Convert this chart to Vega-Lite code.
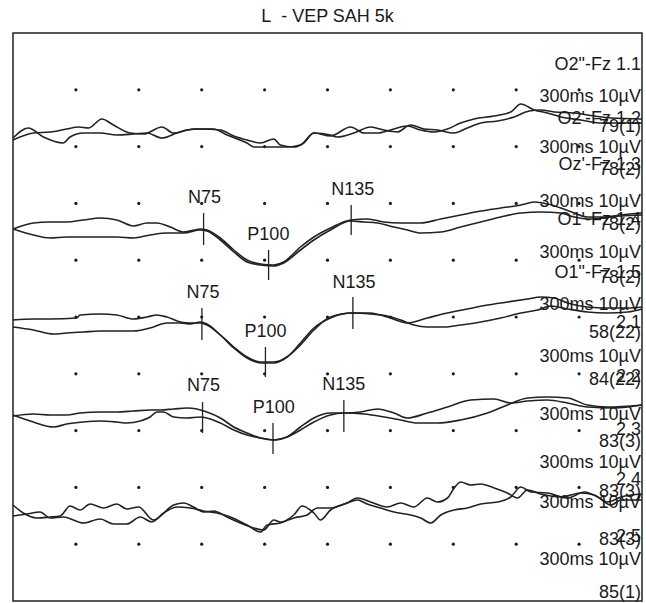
{
"$schema":"https://vega.github.io/schema/vega-lite/v6.json",
"autosize":{"type":"none"},
"width":629,"height":568,
"padding":{"left":13,"top":33,"right":4,"bottom":2},
"background":"white",
"title":{"text":"L\u00a0\u00a0- VEP SAH 5k","fontSize":18,"font":"Liberation Sans","fontWeight":"normal","color":"#1a1a1a","offset":7},
"config":{"view":{"stroke":"#222","strokeWidth":1.5},"font":"Liberation Sans"},
"datasets":{
"grid":[
{"t":30,"amp":510.2},{"t":60,"amp":510.2},{"t":90,"amp":510.2},{"t":120,"amp":510.2},{"t":150,"amp":510.2},{"t":180,"amp":510.2},{"t":210,"amp":510.2},{"t":240,"amp":510.2},{"t":270,"amp":510.2},
{"t":30,"amp":453.4},{"t":60,"amp":453.4},{"t":90,"amp":453.4},{"t":120,"amp":453.4},{"t":150,"amp":453.4},{"t":180,"amp":453.4},{"t":210,"amp":453.4},{"t":240,"amp":453.4},{"t":270,"amp":453.4},
{"t":30,"amp":396.6},{"t":60,"amp":396.6},{"t":90,"amp":396.6},{"t":120,"amp":396.6},{"t":150,"amp":396.6},{"t":180,"amp":396.6},{"t":210,"amp":396.6},{"t":240,"amp":396.6},{"t":270,"amp":396.6},
{"t":30,"amp":339.8},{"t":60,"amp":339.8},{"t":90,"amp":339.8},{"t":120,"amp":339.8},{"t":150,"amp":339.8},{"t":180,"amp":339.8},{"t":210,"amp":339.8},{"t":240,"amp":339.8},{"t":270,"amp":339.8},
{"t":30,"amp":283},{"t":60,"amp":283},{"t":90,"amp":283},{"t":120,"amp":283},{"t":150,"amp":283},{"t":180,"amp":283},{"t":210,"amp":283},{"t":240,"amp":283},{"t":270,"amp":283},
{"t":30,"amp":226.2},{"t":60,"amp":226.2},{"t":90,"amp":226.2},{"t":120,"amp":226.2},{"t":150,"amp":226.2},{"t":180,"amp":226.2},{"t":210,"amp":226.2},{"t":240,"amp":226.2},{"t":270,"amp":226.2},
{"t":30,"amp":169.4},{"t":60,"amp":169.4},{"t":90,"amp":169.4},{"t":120,"amp":169.4},{"t":150,"amp":169.4},{"t":180,"amp":169.4},{"t":210,"amp":169.4},{"t":240,"amp":169.4},{"t":270,"amp":169.4},
{"t":30,"amp":112.6},{"t":60,"amp":112.6},{"t":90,"amp":112.6},{"t":120,"amp":112.6},{"t":150,"amp":112.6},{"t":180,"amp":112.6},{"t":210,"amp":112.6},{"t":240,"amp":112.6},{"t":270,"amp":112.6},
{"t":30,"amp":55.8},{"t":60,"amp":55.8},{"t":90,"amp":55.8},{"t":120,"amp":55.8},{"t":150,"amp":55.8},{"t":180,"amp":55.8},{"t":210,"amp":55.8},{"t":240,"amp":55.8},{"t":270,"amp":55.8}
],
"traces":[
{"trace":"g1a","t":0,"amp":462},{"trace":"g1a","t":7.3,"amp":472},{"trace":"g1a","t":14.5,"amp":463},{"trace":"g1a","t":24,"amp":457},{"trace":"g1a","t":27.2,"amp":463},{"trace":"g1a","t":33.6,"amp":467},{"trace":"g1a","t":41.6,"amp":467},{"trace":"g1a","t":49.5,"amp":465},{"trace":"g1a","t":57.5,"amp":466},{"trace":"g1a","t":63.9,"amp":467},{"trace":"g1a","t":71,"amp":462},{"trace":"g1a","t":78.2,"amp":467},{"trace":"g1a","t":86.1,"amp":471},{"trace":"g1a","t":95.7,"amp":471},{"trace":"g1a","t":102.1,"amp":465},{"trace":"g1a","t":111.6,"amp":457},{"trace":"g1a","t":114.8,"amp":453},{"trace":"g1a","t":124.4,"amp":453},{"trace":"g1a","t":130.7,"amp":453},{"trace":"g1a","t":137.1,"amp":455},{"trace":"g1a","t":143.5,"amp":467},{"trace":"g1a","t":151.4,"amp":464},{"trace":"g1a","t":161,"amp":473},{"trace":"g1a","t":167.4,"amp":467},{"trace":"g1a","t":173.7,"amp":467},{"trace":"g1a","t":180.1,"amp":470},{"trace":"g1a","t":188.1,"amp":474},{"trace":"g1a","t":194.4,"amp":470},{"trace":"g1a","t":200.8,"amp":468},{"trace":"g1a","t":207.2,"amp":471},{"trace":"g1a","t":213.5,"amp":477},{"trace":"g1a","t":219.9,"amp":481},{"trace":"g1a","t":229.4,"amp":484},{"trace":"g1a","t":237.4,"amp":488},{"trace":"g1a","t":242.2,"amp":496},{"trace":"g1a","t":248.6,"amp":490},{"trace":"g1a","t":254.9,"amp":487},{"trace":"g1a","t":261.3,"amp":483},{"trace":"g1a","t":270.8,"amp":480},{"trace":"g1a","t":280.4,"amp":477},{"trace":"g1a","t":289.9,"amp":477},{"trace":"g1a","t":300,"amp":477},
{"trace":"g1b","t":0,"amp":460},{"trace":"g1b","t":9.7,"amp":467},{"trace":"g1b","t":17.7,"amp":468},{"trace":"g1b","t":25.6,"amp":471},{"trace":"g1b","t":31.2,"amp":473},{"trace":"g1b","t":36,"amp":472},{"trace":"g1b","t":42.4,"amp":481},{"trace":"g1b","t":47.9,"amp":475},{"trace":"g1b","t":55.9,"amp":467},{"trace":"g1b","t":62.3,"amp":466},{"trace":"g1b","t":71,"amp":473},{"trace":"g1b","t":76.6,"amp":467},{"trace":"g1b","t":83,"amp":470},{"trace":"g1b","t":89.3,"amp":471},{"trace":"g1b","t":98.9,"amp":470},{"trace":"g1b","t":105.3,"amp":464},{"trace":"g1b","t":111.6,"amp":460},{"trace":"g1b","t":118,"amp":457},{"trace":"g1b","t":124.4,"amp":461},{"trace":"g1b","t":127.5,"amp":455},{"trace":"g1b","t":133.9,"amp":453},{"trace":"g1b","t":138.7,"amp":457},{"trace":"g1b","t":143.5,"amp":467},{"trace":"g1b","t":151.4,"amp":465},{"trace":"g1b","t":154.6,"amp":463},{"trace":"g1b","t":162.6,"amp":467},{"trace":"g1b","t":170.6,"amp":473},{"trace":"g1b","t":176.9,"amp":470},{"trace":"g1b","t":183.3,"amp":468},{"trace":"g1b","t":189.6,"amp":475},{"trace":"g1b","t":196,"amp":471},{"trace":"g1b","t":202.4,"amp":470},{"trace":"g1b","t":210.4,"amp":467},{"trace":"g1b","t":216.7,"amp":472},{"trace":"g1b","t":223.1,"amp":477},{"trace":"g1b","t":231.1,"amp":479},{"trace":"g1b","t":239,"amp":483},{"trace":"g1b","t":246.2,"amp":489},{"trace":"g1b","t":251.8,"amp":490},{"trace":"g1b","t":258.1,"amp":488},{"trace":"g1b","t":267.7,"amp":487},{"trace":"g1b","t":277.2,"amp":484},{"trace":"g1b","t":285.2,"amp":482},{"trace":"g1b","t":300,"amp":481},
{"trace":"g2a","t":0,"amp":371},{"trace":"g2a","t":9.7,"amp":377},{"trace":"g2a","t":17.7,"amp":378},{"trace":"g2a","t":25.6,"amp":378},{"trace":"g2a","t":33.6,"amp":380},{"trace":"g2a","t":41.6,"amp":382},{"trace":"g2a","t":49.5,"amp":380},{"trace":"g2a","t":57.5,"amp":374},{"trace":"g2a","t":63.9,"amp":377},{"trace":"g2a","t":68.6,"amp":377},{"trace":"g2a","t":75,"amp":373},{"trace":"g2a","t":81.4,"amp":368},{"trace":"g2a","t":89.3,"amp":371},{"trace":"g2a","t":92.5,"amp":370},{"trace":"g2a","t":98.9,"amp":362},{"trace":"g2a","t":105.3,"amp":350},{"trace":"g2a","t":111.6,"amp":340},{"trace":"g2a","t":118,"amp":336},{"trace":"g2a","t":124.4,"amp":335},{"trace":"g2a","t":129.1,"amp":338},{"trace":"g2a","t":137.1,"amp":353},{"trace":"g2a","t":143.5,"amp":363},{"trace":"g2a","t":151.4,"amp":372},{"trace":"g2a","t":161,"amp":380},{"trace":"g2a","t":169,"amp":381},{"trace":"g2a","t":176.9,"amp":378},{"trace":"g2a","t":184.9,"amp":377},{"trace":"g2a","t":194.4,"amp":377},{"trace":"g2a","t":204,"amp":381},{"trace":"g2a","t":213.5,"amp":385},{"trace":"g2a","t":223.1,"amp":389},{"trace":"g2a","t":232.6,"amp":392},{"trace":"g2a","t":242.2,"amp":395},{"trace":"g2a","t":248.6,"amp":398},{"trace":"g2a","t":254.9,"amp":396},{"trace":"g2a","t":261.3,"amp":392},{"trace":"g2a","t":267.7,"amp":387},{"trace":"g2a","t":274,"amp":383},{"trace":"g2a","t":282,"amp":383},{"trace":"g2a","t":290,"amp":385},{"trace":"g2a","t":300,"amp":387},
{"trace":"g2b","t":0,"amp":371},{"trace":"g2b","t":9.7,"amp":365},{"trace":"g2b","t":17.7,"amp":362},{"trace":"g2b","t":25.6,"amp":363},{"trace":"g2b","t":33.6,"amp":363},{"trace":"g2b","t":41.6,"amp":363},{"trace":"g2b","t":49.5,"amp":363},{"trace":"g2b","t":57.5,"amp":362},{"trace":"g2b","t":65.4,"amp":365},{"trace":"g2b","t":73.4,"amp":367},{"trace":"g2b","t":81.4,"amp":367},{"trace":"g2b","t":89.3,"amp":370},{"trace":"g2b","t":92.5,"amp":369},{"trace":"g2b","t":98.9,"amp":360},{"trace":"g2b","t":105.3,"amp":348},{"trace":"g2b","t":111.6,"amp":338},{"trace":"g2b","t":118,"amp":335},{"trace":"g2b","t":124.4,"amp":334},{"trace":"g2b","t":129.1,"amp":337},{"trace":"g2b","t":137.1,"amp":350},{"trace":"g2b","t":143.5,"amp":360},{"trace":"g2b","t":151.4,"amp":370},{"trace":"g2b","t":161,"amp":379},{"trace":"g2b","t":167.4,"amp":378},{"trace":"g2b","t":173.7,"amp":377},{"trace":"g2b","t":181.7,"amp":373},{"trace":"g2b","t":188.1,"amp":370},{"trace":"g2b","t":194.4,"amp":367},{"trace":"g2b","t":204,"amp":368},{"trace":"g2b","t":213.5,"amp":373},{"trace":"g2b","t":223.1,"amp":378},{"trace":"g2b","t":232.6,"amp":383},{"trace":"g2b","t":242.2,"amp":387},{"trace":"g2b","t":251.8,"amp":388},{"trace":"g2b","t":261.3,"amp":387},{"trace":"g2b","t":267.7,"amp":383},{"trace":"g2b","t":274,"amp":381},{"trace":"g2b","t":282,"amp":382},{"trace":"g2b","t":290,"amp":384},{"trace":"g2b","t":300,"amp":385},
{"trace":"g3a","t":0,"amp":280},{"trace":"g3a","t":9.7,"amp":281},{"trace":"g3a","t":17.7,"amp":281},{"trace":"g3a","t":30.4,"amp":282},{"trace":"g3a","t":32,"amp":285},{"trace":"g3a","t":41.6,"amp":286},{"trace":"g3a","t":49.5,"amp":285},{"trace":"g3a","t":57.5,"amp":281},{"trace":"g3a","t":63.9,"amp":283},{"trace":"g3a","t":68.6,"amp":285},{"trace":"g3a","t":73.4,"amp":283},{"trace":"g3a","t":79.8,"amp":278},{"trace":"g3a","t":84.6,"amp":277},{"trace":"g3a","t":89.3,"amp":277},{"trace":"g3a","t":92.5,"amp":275},{"trace":"g3a","t":98.9,"amp":265},{"trace":"g3a","t":105.3,"amp":253},{"trace":"g3a","t":111.6,"amp":243},{"trace":"g3a","t":118,"amp":238},{"trace":"g3a","t":124.4,"amp":238},{"trace":"g3a","t":130.7,"amp":243},{"trace":"g3a","t":137.1,"amp":257},{"trace":"g3a","t":143.5,"amp":272},{"trace":"g3a","t":151.4,"amp":282},{"trace":"g3a","t":161.8,"amp":287},{"trace":"g3a","t":170.5,"amp":287},{"trace":"g3a","t":178.5,"amp":283},{"trace":"g3a","t":188.1,"amp":277},{"trace":"g3a","t":197.6,"amp":282},{"trace":"g3a","t":207.2,"amp":287},{"trace":"g3a","t":216.7,"amp":291},{"trace":"g3a","t":226.3,"amp":295},{"trace":"g3a","t":235.8,"amp":298},{"trace":"g3a","t":245.4,"amp":301},{"trace":"g3a","t":251.8,"amp":303},{"trace":"g3a","t":258.1,"amp":302},{"trace":"g3a","t":264.5,"amp":297},{"trace":"g3a","t":274,"amp":293},{"trace":"g3a","t":283.6,"amp":292},{"trace":"g3a","t":293.2,"amp":292},{"trace":"g3a","t":300,"amp":293},
{"trace":"g3b","t":0,"amp":273},{"trace":"g3b","t":9.7,"amp":270},{"trace":"g3b","t":19.3,"amp":266},{"trace":"g3b","t":25.6,"amp":267},{"trace":"g3b","t":33.6,"amp":268},{"trace":"g3b","t":41.6,"amp":269},{"trace":"g3b","t":49.5,"amp":269},{"trace":"g3b","t":57.5,"amp":269},{"trace":"g3b","t":65.4,"amp":272},{"trace":"g3b","t":73.4,"amp":277},{"trace":"g3b","t":79.8,"amp":277},{"trace":"g3b","t":84.6,"amp":276},{"trace":"g3b","t":89.3,"amp":278},{"trace":"g3b","t":92.5,"amp":276},{"trace":"g3b","t":98.9,"amp":265},{"trace":"g3b","t":105.3,"amp":252},{"trace":"g3b","t":111.6,"amp":242},{"trace":"g3b","t":118,"amp":237},{"trace":"g3b","t":124.4,"amp":237},{"trace":"g3b","t":130.7,"amp":243},{"trace":"g3b","t":137.1,"amp":255},{"trace":"g3b","t":143.5,"amp":270},{"trace":"g3b","t":151.4,"amp":283},{"trace":"g3b","t":161.8,"amp":287},{"trace":"g3b","t":170.5,"amp":286},{"trace":"g3b","t":178.5,"amp":284},{"trace":"g3b","t":184.9,"amp":280},{"trace":"g3b","t":191.2,"amp":275},{"trace":"g3b","t":197.6,"amp":273},{"trace":"g3b","t":205.6,"amp":273},{"trace":"g3b","t":213.5,"amp":275},{"trace":"g3b","t":223.1,"amp":278},{"trace":"g3b","t":232.6,"amp":282},{"trace":"g3b","t":242.2,"amp":287},{"trace":"g3b","t":250.2,"amp":290},{"trace":"g3b","t":256.5,"amp":294},{"trace":"g3b","t":264.5,"amp":291},{"trace":"g3b","t":274,"amp":288},{"trace":"g3b","t":283.6,"amp":287},{"trace":"g3b","t":293.2,"amp":288},{"trace":"g3b","t":300,"amp":291},
{"trace":"g4a","t":0,"amp":184},{"trace":"g4a","t":9.7,"amp":186},{"trace":"g4a","t":17.7,"amp":185},{"trace":"g4a","t":25.6,"amp":185},{"trace":"g4a","t":32,"amp":187},{"trace":"g4a","t":41.6,"amp":188},{"trace":"g4a","t":49.5,"amp":188},{"trace":"g4a","t":57.5,"amp":189},{"trace":"g4a","t":65.4,"amp":190},{"trace":"g4a","t":70.2,"amp":190},{"trace":"g4a","t":76.6,"amp":191},{"trace":"g4a","t":83,"amp":192},{"trace":"g4a","t":87.7,"amp":191},{"trace":"g4a","t":92.5,"amp":188},{"trace":"g4a","t":98.9,"amp":182},{"trace":"g4a","t":105.3,"amp":173},{"trace":"g4a","t":111.6,"amp":167},{"trace":"g4a","t":118,"amp":162},{"trace":"g4a","t":124.4,"amp":160},{"trace":"g4a","t":130.7,"amp":163},{"trace":"g4a","t":137.1,"amp":173},{"trace":"g4a","t":143.5,"amp":182},{"trace":"g4a","t":151.4,"amp":187},{"trace":"g4a","t":157.8,"amp":187},{"trace":"g4a","t":165.8,"amp":188},{"trace":"g4a","t":173.7,"amp":191},{"trace":"g4a","t":181.7,"amp":187},{"trace":"g4a","t":188.1,"amp":182},{"trace":"g4a","t":197.6,"amp":187},{"trace":"g4a","t":207.2,"amp":193},{"trace":"g4a","t":218.3,"amp":200},{"trace":"g4a","t":229.5,"amp":201},{"trace":"g4a","t":237.4,"amp":197},{"trace":"g4a","t":245.4,"amp":199},{"trace":"g4a","t":254.9,"amp":200},{"trace":"g4a","t":264.5,"amp":197},{"trace":"g4a","t":274,"amp":193},{"trace":"g4a","t":286.8,"amp":192},{"trace":"g4a","t":300,"amp":195},
{"trace":"g4b","t":0,"amp":185},{"trace":"g4b","t":9.7,"amp":178},{"trace":"g4b","t":19.3,"amp":173},{"trace":"g4b","t":25.6,"amp":176},{"trace":"g4b","t":33.6,"amp":178},{"trace":"g4b","t":41.6,"amp":179},{"trace":"g4b","t":49.5,"amp":178},{"trace":"g4b","t":54.3,"amp":177},{"trace":"g4b","t":60.7,"amp":179},{"trace":"g4b","t":65.4,"amp":183},{"trace":"g4b","t":68.6,"amp":188},{"trace":"g4b","t":71.8,"amp":188},{"trace":"g4b","t":76.6,"amp":183},{"trace":"g4b","t":83,"amp":182},{"trace":"g4b","t":89.3,"amp":183},{"trace":"g4b","t":92.5,"amp":182},{"trace":"g4b","t":98.9,"amp":177},{"trace":"g4b","t":105.3,"amp":170},{"trace":"g4b","t":111.6,"amp":165},{"trace":"g4b","t":118,"amp":162},{"trace":"g4b","t":124.4,"amp":160},{"trace":"g4b","t":130.7,"amp":163},{"trace":"g4b","t":137.1,"amp":170},{"trace":"g4b","t":143.5,"amp":178},{"trace":"g4b","t":151.4,"amp":185},{"trace":"g4b","t":157.8,"amp":187},{"trace":"g4b","t":167.4,"amp":186},{"trace":"g4b","t":177,"amp":183},{"trace":"g4b","t":184.9,"amp":180},{"trace":"g4b","t":192.8,"amp":177},{"trace":"g4b","t":202.4,"amp":177},{"trace":"g4b","t":213.5,"amp":180},{"trace":"g4b","t":226.3,"amp":187},{"trace":"g4b","t":235.8,"amp":195},{"trace":"g4b","t":245.4,"amp":202},{"trace":"g4b","t":254.9,"amp":203},{"trace":"g4b","t":264.5,"amp":202},{"trace":"g4b","t":274,"amp":195},{"trace":"g4b","t":283.6,"amp":193},{"trace":"g4b","t":300,"amp":195},
{"trace":"g5a","t":0,"amp":95},{"trace":"g5a","t":4.9,"amp":87},{"trace":"g5a","t":11.3,"amp":82},{"trace":"g5a","t":17.7,"amp":83},{"trace":"g5a","t":22.5,"amp":84},{"trace":"g5a","t":27.2,"amp":94},{"trace":"g5a","t":32,"amp":90},{"trace":"g5a","t":36.8,"amp":96},{"trace":"g5a","t":43.2,"amp":92},{"trace":"g5a","t":49.5,"amp":96},{"trace":"g5a","t":54.3,"amp":91},{"trace":"g5a","t":59.9,"amp":93},{"trace":"g5a","t":67,"amp":80},{"trace":"g5a","t":76.6,"amp":95},{"trace":"g5a","t":81.4,"amp":97},{"trace":"g5a","t":86.1,"amp":93},{"trace":"g5a","t":90.9,"amp":88},{"trace":"g5a","t":95.7,"amp":89},{"trace":"g5a","t":102.1,"amp":83},{"trace":"g5a","t":108.4,"amp":77},{"trace":"g5a","t":114.8,"amp":72},{"trace":"g5a","t":119.6,"amp":70},{"trace":"g5a","t":124.4,"amp":80},{"trace":"g5a","t":127.5,"amp":78},{"trace":"g5a","t":133.9,"amp":85},{"trace":"g5a","t":137.9,"amp":94},{"trace":"g5a","t":143.5,"amp":87},{"trace":"g5a","t":146.7,"amp":80},{"trace":"g5a","t":151.4,"amp":90},{"trace":"g5a","t":159.4,"amp":97},{"trace":"g5a","t":164.2,"amp":102},{"trace":"g5a","t":170.5,"amp":98},{"trace":"g5a","t":178.5,"amp":93},{"trace":"g5a","t":184.9,"amp":97},{"trace":"g5a","t":191.2,"amp":93},{"trace":"g5a","t":197.6,"amp":102},{"trace":"g5a","t":202.4,"amp":98},{"trace":"g5a","t":207.2,"amp":102},{"trace":"g5a","t":210.4,"amp":112},{"trace":"g5a","t":213.5,"amp":118},{"trace":"g5a","t":218.3,"amp":115},{"trace":"g5a","t":223.1,"amp":116},{"trace":"g5a","t":229.5,"amp":112},{"trace":"g5a","t":235.8,"amp":107},{"trace":"g5a","t":240.6,"amp":102},{"trace":"g5a","t":245.4,"amp":110},{"trace":"g5a","t":251.8,"amp":106},{"trace":"g5a","t":261.3,"amp":103},{"trace":"g5a","t":270.8,"amp":107},{"trace":"g5a","t":277.2,"amp":105},{"trace":"g5a","t":283.6,"amp":98},{"trace":"g5a","t":290,"amp":103},{"trace":"g5a","t":300,"amp":106},
{"trace":"g5b","t":0,"amp":84},{"trace":"g5b","t":6.5,"amp":86},{"trace":"g5b","t":12.9,"amp":88},{"trace":"g5b","t":17.7,"amp":82},{"trace":"g5b","t":24,"amp":83},{"trace":"g5b","t":33.6,"amp":77},{"trace":"g5b","t":41.6,"amp":81},{"trace":"g5b","t":47.9,"amp":76},{"trace":"g5b","t":54.3,"amp":76},{"trace":"g5b","t":60.7,"amp":83},{"trace":"g5b","t":66.2,"amp":78},{"trace":"g5b","t":71.8,"amp":87},{"trace":"g5b","t":78.2,"amp":93},{"trace":"g5b","t":84.6,"amp":92},{"trace":"g5b","t":90.9,"amp":89},{"trace":"g5b","t":97.3,"amp":87},{"trace":"g5b","t":103.7,"amp":83},{"trace":"g5b","t":111.6,"amp":75},{"trace":"g5b","t":118,"amp":68},{"trace":"g5b","t":121.2,"amp":75},{"trace":"g5b","t":127.5,"amp":77},{"trace":"g5b","t":133.9,"amp":82},{"trace":"g5b","t":140.3,"amp":85},{"trace":"g5b","t":145.1,"amp":92},{"trace":"g5b","t":151.4,"amp":92},{"trace":"g5b","t":159.4,"amp":97},{"trace":"g5b","t":164.2,"amp":100},{"trace":"g5b","t":168.9,"amp":96},{"trace":"g5b","t":175.3,"amp":92},{"trace":"g5b","t":181.7,"amp":88},{"trace":"g5b","t":189.6,"amp":85},{"trace":"g5b","t":194.4,"amp":82},{"trace":"g5b","t":199.3,"amp":77},{"trace":"g5b","t":204,"amp":85},{"trace":"g5b","t":210.4,"amp":90},{"trace":"g5b","t":216.7,"amp":92},{"trace":"g5b","t":223.1,"amp":96},{"trace":"g5b","t":231.1,"amp":98},{"trace":"g5b","t":237.4,"amp":103},{"trace":"g5b","t":242.2,"amp":113},{"trace":"g5b","t":247,"amp":108},{"trace":"g5b","t":254.9,"amp":107},{"trace":"g5b","t":264.5,"amp":102},{"trace":"g5b","t":272.5,"amp":108},{"trace":"g5b","t":278.9,"amp":103},{"trace":"g5b","t":285.2,"amp":95},{"trace":"g5b","t":290,"amp":100},{"trace":"g5b","t":300,"amp":100}
],
"markers":[
{"t":90.9,"a1":355,"a2":387},{"t":121.9,"a1":320,"a2":350},{"t":161.3,"a1":365,"a2":395},
{"t":90.1,"a1":260,"a2":292},{"t":120.4,"a1":223,"a2":253},{"t":162.1,"a1":271,"a2":303},
{"t":90.4,"a1":167,"a2":198},{"t":124,"a1":146,"a2":177},{"t":157.8,"a1":168,"a2":200}
],
"peaks":[
{"t":91.3,"amp":402,"label":"N75"},{"t":121.8,"amp":365,"label":"P100"},{"t":162,"amp":410,"label":"N135"},
{"t":90.6,"amp":307,"label":"N75"},{"t":120.4,"amp":268,"label":"P100"},{"t":162.6,"amp":317,"label":"N135"},
{"t":90.9,"amp":214,"label":"N75"},{"t":124.4,"amp":192,"label":"P100"},{"t":157.8,"amp":215,"label":"N135"}
],
"labels":[
{"t":300,"amp":535,"label":"O2\"-Fz 1.1"},
{"t":300,"amp":503,"label":"300ms 10µV"},
{"t":300,"amp":481,"label":"O2'-Fz 1.2"},
{"t":300,"amp":473,"label":"79(1)"},
{"t":300,"amp":452,"label":"300ms 10µV"},
{"t":300,"amp":435,"label":"Oz'-Fz 1.3"},
{"t":300,"amp":430,"label":"78(2)"},
{"t":300,"amp":398,"label":"300ms 10µV"},
{"t":300,"amp":380,"label":"O1'-Fz 1.4"},
{"t":300,"amp":375,"label":"78(2)"},
{"t":300,"amp":347,"label":"300ms 10µV"},
{"t":300,"amp":327,"label":"O1\"-Fz 1.5"},
{"t":300,"amp":322,"label":"78(2)"},
{"t":300,"amp":295,"label":"300ms 10µV"},
{"t":300,"amp":277,"label":"2.1"},
{"t":300,"amp":267,"label":"58(22)"},
{"t":300,"amp":243,"label":"300ms 10µV"},
{"t":300,"amp":223,"label":"2.2"},
{"t":300,"amp":220,"label":"84(22)"},
{"t":300,"amp":185,"label":"300ms 10µV"},
{"t":300,"amp":170,"label":"2.3"},
{"t":300,"amp":158,"label":"83(3)"},
{"t":300,"amp":137,"label":"300ms 10µV"},
{"t":300,"amp":120,"label":"2.4"},
{"t":300,"amp":108,"label":"83(3)"},
{"t":300,"amp":97,"label":"300ms 10µV"},
{"t":300,"amp":63,"label":"2.5"},
{"t":300,"amp":60,"label":"83(3)"},
{"t":300,"amp":40,"label":"300ms 10µV"},
{"t":300,"amp":7,"label":"85(1)"}
]
},
"layer":[
{"data":{"name":"grid"},
 "mark":{"type":"point","filled":true,"size":10,"color":"#1a1a1a","opacity":1},
 "encoding":{
  "x":{"field":"t","type":"quantitative","scale":{"domain":[0,300],"nice":false,"zero":false},
       "axis":{"orient":"top","values":[30,60,90,120,150,180,210,240,270],"labels":false,"domain":false,"grid":false,"title":null,"ticks":true,"tickSize":-3,"tickColor":"#444","tickWidth":1}},
  "y":{"field":"amp","type":"quantitative","scale":{"domain":[-1,567],"nice":false,"zero":false},
       "axis":{"orient":"left","values":[510.2,453.4,396.6,339.8,283,226.2,169.4,112.6,55.8],"labels":false,"domain":false,"grid":false,"title":null,"ticks":true,"tickSize":-3,"tickColor":"#444","tickWidth":1}}
 }},
{"data":{"name":"traces"},
 "mark":{"type":"line","interpolate":"monotone","color":"#222","strokeWidth":1.6},
 "encoding":{
  "x":{"field":"t","type":"quantitative","scale":{"domain":[0,300],"nice":false,"zero":false},"axis":null},
  "y":{"field":"amp","type":"quantitative","scale":{"domain":[-1,567],"nice":false,"zero":false},"axis":null},
  "detail":{"field":"trace","type":"nominal"}
 }},
{"data":{"name":"markers"},
 "mark":{"type":"rule","color":"#222","strokeWidth":1.3},
 "encoding":{
  "x":{"field":"t","type":"quantitative","scale":{"domain":[0,300],"nice":false,"zero":false},"axis":null},
  "y":{"field":"a1","type":"quantitative","scale":{"domain":[-1,567],"nice":false,"zero":false},"axis":null},
  "y2":{"field":"a2"}
 }},
{"data":{"name":"peaks"},
 "mark":{"type":"text","align":"center","baseline":"middle","fontSize":18,"font":"Liberation Sans","color":"#1a1a1a"},
 "encoding":{
  "x":{"field":"t","type":"quantitative","scale":{"domain":[0,300],"nice":false,"zero":false},"axis":null},
  "y":{"field":"amp","type":"quantitative","scale":{"domain":[-1,567],"nice":false,"zero":false},"axis":null},
  "text":{"field":"label"}
 }},
{"data":{"name":"labels"},
 "mark":{"type":"text","align":"right","baseline":"middle","dx":-1,"fontSize":18,"font":"Liberation Sans","color":"#1a1a1a"},
 "encoding":{
  "x":{"field":"t","type":"quantitative","scale":{"domain":[0,300],"nice":false,"zero":false},"axis":null},
  "y":{"field":"amp","type":"quantitative","scale":{"domain":[-1,567],"nice":false,"zero":false},"axis":null},
  "text":{"field":"label"}
 }}
]
}
